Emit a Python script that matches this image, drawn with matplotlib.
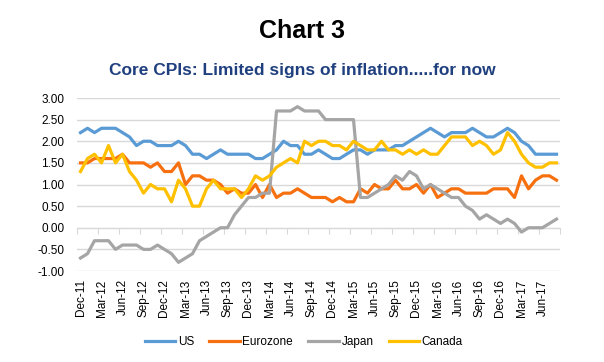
import numpy as np
import matplotlib
matplotlib.use("Agg")
import matplotlib.pyplot as plt

plt.rcParams['font.family'] = ['Liberation Sans', 'DejaVu Sans']

# monthly, Dec-11 .. Aug-17
months = ['Dec', 'Jan', 'Feb', 'Mar', 'Apr', 'May', 'Jun', 'Jul', 'Aug', 'Sep', 'Oct', 'Nov']
dates = []
for k in range(69):
    m = months[k % 12]
    yr = 11 + (k + 11) // 12
    dates.append(f'{m}-{yr}')

us = [2.2, 2.3, 2.2, 2.3, 2.3, 2.3, 2.2, 2.1, 1.9, 2.0, 2.0, 1.9, 1.9, 1.9, 2.0, 1.9, 1.7, 1.7,
      1.6, 1.7, 1.8, 1.7, 1.7, 1.7, 1.7, 1.6, 1.6, 1.7, 1.8, 2.0, 1.9, 1.9, 1.7, 1.7, 1.8, 1.7,
      1.6, 1.6, 1.7, 1.8, 1.8, 1.7, 1.8, 1.8, 1.8,
      1.9, 1.9, 2.0, 2.1, 2.2, 2.3, 2.2, 2.1, 2.2, 2.2, 2.2, 2.3, 2.2, 2.1, 2.1, 2.2, 2.3, 2.2,
      2.0, 1.9, 1.7, 1.7, 1.7, 1.7]
eurozone = [1.5, 1.5, 1.6, 1.6, 1.6, 1.6, 1.7, 1.5, 1.5, 1.5, 1.4, 1.5, 1.3, 1.3, 1.5, 1.0, 1.2, 1.2,
            1.1, 1.1, 1.0, 0.8, 0.9, 0.8, 0.8, 1.0, 0.7, 1.0, 0.7, 0.8, 0.8, 0.9, 0.8, 0.7, 0.7, 0.7,
            0.6, 0.7, 0.6, 0.6, 0.9, 0.8, 1.0, 0.9, 0.9,
            1.1, 0.9, 0.9, 1.0, 0.8, 1.0, 0.7, 0.8, 0.9, 0.9, 0.8, 0.8, 0.8, 0.8, 0.9, 0.9, 0.9, 0.7,
            1.2, 0.9, 1.1, 1.2, 1.2, 1.1]
japan = [-0.7, -0.6, -0.3, -0.3, -0.3, -0.5, -0.4, -0.4, -0.4, -0.5, -0.5, -0.4, -0.5, -0.6, -0.8, -0.7, -0.6, -0.3,
         -0.2, -0.1, 0.0, 0.0, 0.3, 0.5, 0.7, 0.7, 0.8, 0.8, 2.7, 2.7, 2.7, 2.8, 2.7, 2.7, 2.7, 2.5,
         2.5, 2.5, 2.5, 2.5, 0.7, 0.7, 0.8, 0.9, 1.0,
         1.2, 1.1, 1.3, 1.2, 0.9, 1.0, 0.9, 0.8, 0.7, 0.7, 0.5, 0.4, 0.2, 0.3, 0.2, 0.1, 0.2, 0.1,
         -0.1, 0.0, 0.0, 0.0, 0.1, 0.2]
canada = [1.3, 1.6, 1.7, 1.5, 1.9, 1.5, 1.7, 1.3, 1.1, 0.8, 1.0, 0.9, 0.9, 0.6, 1.1, 0.9, 0.5, 0.5,
          0.9, 1.1, 0.9, 0.9, 0.9, 0.7, 0.9, 1.2, 1.1, 1.2, 1.4, 1.5, 1.6, 1.5, 2.0, 1.9, 2.0, 2.0,
          1.9, 1.9, 1.8, 2.0, 1.9, 1.8, 1.8, 2.0, 1.8,
          1.8, 1.7, 1.8, 1.7, 1.8, 1.7, 1.7, 1.9, 2.1, 2.1, 2.1, 1.9, 2.0, 1.9, 1.7, 1.8, 2.2, 2.0,
          1.7, 1.5, 1.4, 1.4, 1.5, 1.5]

series = [('US', us, '#5B9BD5'), ('Eurozone', eurozone, '#F7700F'),
          ('Japan', japan, '#A5A5A5'), ('Canada', canada, '#FFC000')]

fig = plt.figure(figsize=(6.04, 3.62), dpi=100)
ax = fig.add_axes([77 / 604, 1 - 271 / 362, (560 - 77) / 604, (271 - 98) / 362])

x = np.arange(len(dates))
for name, vals, col in series:
    ax.plot(x, vals, color=col, lw=2.3, label=name, solid_joinstyle='round')

ax.set_xlim(-0.5, len(dates) - 0.5)
ax.set_ylim(-1, 3)
yt = np.arange(-1, 3.01, 0.5)
ax.set_yticks(yt)
ax.set_yticklabels([f'{v:.2f}' for v in yt])
ax.yaxis.grid(True, color='#D9D9D9', lw=1)
ax.set_axisbelow(True)
for s in ax.spines.values():
    s.set_visible(False)
ax.tick_params(axis='y', length=0, pad=9, labelsize=8.5)

ax.set_xticks(x[::3])
ax.set_xticklabels(dates[::3], rotation=90)
ax.tick_params(axis='x', length=0, pad=6, labelsize=8.5)

# zero line with category tick marks
sec = ax.secondary_xaxis(0.25)
sec.set_xticks(np.arange(-0.5, len(dates), 3))
sec.tick_params(length=4, color='#D9D9D9', labelbottom=False)
sec.spines['bottom'].set_color('#D9D9D9')

fig.text(0.5, 1 - 31 / 362, 'Chart 3', ha='center', va='center', fontsize=18, fontweight='bold')
fig.text(0.5, 1 - 70 / 362, 'Core CPIs: Limited signs of inflation.....for now', ha='center', va='center',
         fontsize=12.5, fontweight='bold', color='#1F3F7F')

fig.legend(loc='center', bbox_to_anchor=(0.503, 1 - 342 / 362), ncol=4, frameon=False,
           fontsize=8.5, handlelength=2.6, handletextpad=0.2, columnspacing=1.3)

fig.savefig('out.png', dpi=100)
